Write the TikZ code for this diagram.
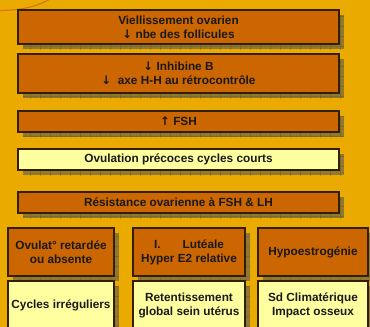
\documentclass[tikz,border=0pt]{standalone}
\usepackage{fontspec}
\setmainfont{Liberation Sans}
\newfontfamily\arrfont{DejaVu Sans}
\usetikzlibrary{shadows,patterns}
\definecolor{bgc}{RGB}{235,170,0}
\definecolor{orc}{RGB}{204,102,0}
\definecolor{ylc}{RGB}{255,255,160}
\definecolor{bdc}{RGB}{50,30,0}
\definecolor{shc}{RGB}{145,120,48}
\definecolor{shl}{RGB}{95,80,30}
\definecolor{arcc}{RGB}{215,120,10}
\pgfdeclarepatternformonly{sgrid}{\pgfpointorigin}{\pgfpoint{10pt}{10pt}}{\pgfpoint{10pt}{10pt}}{%
  \pgfsetlinewidth{0.7pt}%
  \pgfpathmoveto{\pgfpoint{0pt}{0pt}}\pgfpathlineto{\pgfpoint{0pt}{10pt}}%
  \pgfpathmoveto{\pgfpoint{0pt}{0pt}}\pgfpathlineto{\pgfpoint{10pt}{0pt}}%
  \pgfusepath{stroke}}
\tikzset{
 box/.style={draw=bdc, line width=1.2pt, align=center,
   font=\fontsize{11.8}{14}\selectfont\bfseries, text=black!90, inner sep=0pt,
   general shadow={fill=shc, shadow xshift=5pt, shadow yshift=-5pt,
     postaction={pattern=sgrid, pattern color=shl}}},
 obox/.style={box, fill=orc},
 ybox/.style={box, fill=ylc},
}
\newcommand\arrdn{{\arrfont\bfseries ↓}}
\newcommand\arrup{{\arrfont\bfseries ↑}}
\begin{document}
\begin{tikzpicture}[x=1pt,y=-1pt]
\clip (0,0) rectangle (370,327);
\fill[bgc] (0,0) rectangle (370,327);
\draw[arcc, line width=1.2pt] (0,10.5) .. controls (25,10) and (38,6) .. (52,-2);
\node[obox, minimum width=321pt, minimum height=34pt] (b1) at (178.5,27) {Viellissement ovarien\\\arrdn\ nbe des follicules};
\node[obox, minimum width=321pt, minimum height=39pt] (b2) at (178.5,73.5) {\arrdn\ Inhibine B\\\arrdn\ \ axe H-H au rétrocontrôle};
\node[obox, minimum width=321pt, minimum height=21pt] (b3) at (178.5,121.5) {\arrup\ FSH};
\node[ybox, minimum width=321pt, minimum height=21pt] (b4) at (178.5,159.5) {Ovulation précoces cycles courts};
\node[obox, minimum width=321pt, minimum height=21pt] (b5) at (178.5,202.5) {Résistance ovarienne à FSH \& LH};
\node[obox, minimum width=106pt, minimum height=48pt] (oa) at (61,252) {Ovulat° retardée\\ou absente};
\node[obox, minimum width=112pt, minimum height=48pt] (ob) at (189,252) {I.\hspace{22pt}Lutéale\\Hyper E2 relative};
\node[obox, minimum width=110pt, minimum height=48pt] (oc) at (313,252) {Hypoestrogénie};
\node[ybox, minimum width=106pt, minimum height=49pt] (ya) at (61,305.5) {Cycles irréguliers};
\node[ybox, minimum width=112pt, minimum height=49pt] (yb) at (189,305.5) {Retentissement\\global sein utérus};
\node[ybox, minimum width=110pt, minimum height=49pt] (yc) at (313,305.5) {Sd Climatérique\\Impact osseux};
\end{tikzpicture}
\end{document}
